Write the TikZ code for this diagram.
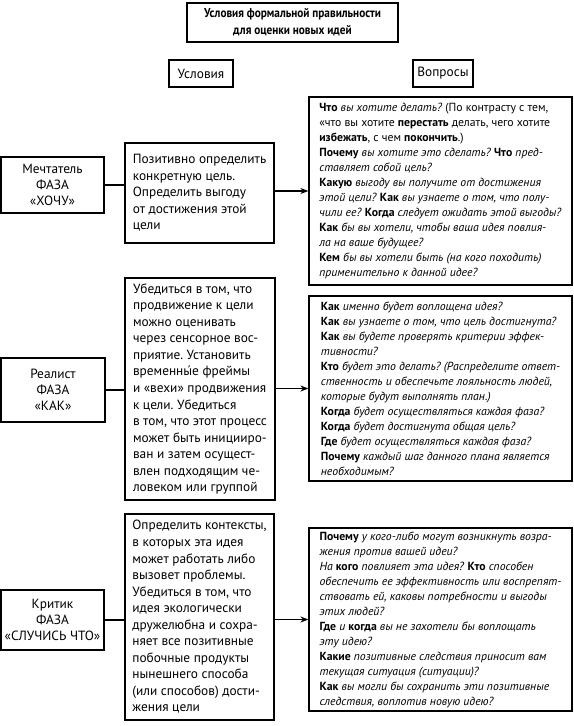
\documentclass[tikz,border=0pt]{standalone}
\usepackage{fontspec}
\setmainfont{PT Sans}
\newfontfamily\titlefont[FakeStretch=0.88]{PT Sans}
\usetikzlibrary{arrows.meta}
\frenchspacing
\tikzset{
  box/.style={draw=black, line width=0.9pt, rectangle, inner sep=0pt},
  sidebox/.style={box, align=center, font=\fontsize{10}{12}\selectfont},
  condbox/.style={box, align=left, font=\fontsize{10}{12.4}\selectfont},
  qbox/.style={box, align=left, font=\fontsize{8.8}{11.25}\selectfont},
  headbox/.style={box, align=center, font=\fontsize{10}{12}\selectfont},
  link/.style={line width=1pt},
  arr/.style={line width=1pt, -{Stealth[length=6pt,width=4.5pt]}}
}
\begin{document}
\begin{tikzpicture}[x=0.75pt,y=-0.75pt]
\useasboundingbox (0,0) rectangle (574,726);

\node[headbox, minimum width=158.25pt, minimum height=29.25pt, font=\titlefont\fontsize{9.6}{12.8}\selectfont\bfseries] (title) at (292.5,22.5)
  {Условия формальной правильности\\для оценки новых идей};
\node[headbox, minimum width=48pt, minimum height=20.25pt] (hcond) at (201,73.5) {Условия};
\node[headbox, minimum width=45pt, minimum height=20.25pt] (hq) at (443,73.5) {Вопросы};

% Row 1
\node[sidebox, minimum width=77.25pt, minimum height=42pt] (s1) at (52.5,185)
  {Мечтатель\\ФАЗА\\«ХОЧУ»};
\node[condbox, minimum width=111.75pt, minimum height=75pt] (c1) at (199.5,193)
  {Позитивно определить\\конкретную цель.\\Определить выгоду\\от достижения этой\\цели};
\node[qbox, minimum width=197.25pt, minimum height=141pt] (q1) at (440.5,191)
  {\textbf{Что} \textit{вы хотите делать?} (По контрасту с тем,\\
  «что вы хотите \textbf{перестать} делать, чего хотите\\
  \textbf{избежать}, с чем \textbf{покончить}.)\\
  \textbf{Почему} \textit{вы хотите это сделать?} \textbf{Что} \textit{пред-}\\
  \textit{ставляет собой цель?}\\
  \textbf{Какую} \textit{выгоду вы получите от достижения}\\
  \textit{этой цели?} \textbf{Как} \textit{вы узнаете о том, что полу-}\\
  \textit{чили ее?} \textbf{Когда} \textit{следует ожидать этой выгоды?}\\
  \textbf{Как} \textit{бы вы хотели, чтобы ваша идея повлия-}\\
  \textit{ла на ваше будущее?}\\
  \textbf{Кем} \textit{бы вы хотели быть (на кого походить)}\\
  \textit{применительно к данной идее?}};

% Row 2
\node[sidebox, minimum width=78pt, minimum height=48pt] (s2) at (53,390)
  {Реалист\\ФАЗА\\«КАК»};
\node[condbox, minimum width=112.5pt, minimum height=166.5pt] (c2) at (200,389)
  {Убедиться в том, что\\продвижение к цели\\можно оценивать\\через сенсорное вос-\\приятие. Установить\\временны́е фреймы\\и «вехи» продвижения\\к цели. Убедиться\\в том, что этот процесс\\может быть иницииро-\\ван и затем осущест-\\влен подходящим че-\\ловеком или группой};
\node[qbox, minimum width=197.25pt, minimum height=138.75pt] (q2) at (440.5,388.5)
  {\textbf{Как} \textit{именно будет воплощена идея?}\\
  \textbf{Как} \textit{вы узнаете о том, что цель достигнута?}\\
  \textbf{Как} \textit{вы будете проверять критерии эффек-}\\
  \textit{тивности?}\\
  \textbf{Кто} \textit{будет это делать? (Распределите ответ-}\\
  \textit{ственность и обеспечьте лояльность людей,}\\
  \textit{которые будут выполнять план.)}\\
  \textbf{Когда} \textit{будет осуществляться каждая фаза?}\\
  \textbf{Когда} \textit{будет достигнута общая цель?}\\
  \textbf{Где} \textit{будет осуществляться каждая фаза?}\\
  \textbf{Почему} \textit{каждый шаг данного плана является}\\
  \textit{необходимым?}};

% Row 3
\node[sidebox, minimum width=77.25pt, minimum height=45pt] (s3) at (52.5,620)
  {Критик\\ФАЗА\\«СЛУЧИСЬ ЧТО»};
\node[condbox, minimum width=111.75pt, minimum height=154.5pt] (c3) at (199.5,617)
  {Определить контексты,\\в которых эта идея\\может работать либо\\вызовет проблемы.\\Убедиться в том, что\\идея экологически\\дружелюбна и сохра-\\няет все позитивные\\побочные продукты\\нынешнего способа\\(или способов) дости-\\жения цели};
\node[qbox, minimum width=197.25pt, minimum height=137.25pt] (q3) at (440.5,619.5)
  {\textbf{Почему} \textit{у кого-либо могут возникнуть возра-}\\
  \textit{жения против вашей идеи?}\\
  \textit{На} \textbf{кого} \textit{повлияет эта идея?} \textbf{Кто} \textit{способен}\\
  \textit{обеспечить ее эффективность или воспрепят-}\\
  \textit{ствовать ей, каковы потребности и выгоды}\\
  \textit{этих людей?}\\
  \textbf{Где} \textit{и} \textbf{когда} \textit{вы не захотели бы воплощать}\\
  \textit{эту идею?}\\
  \textbf{Какие} \textit{позитивные следствия приносит вам}\\
  \textit{текущая ситуация (ситуации)?}\\
  \textbf{Как} \textit{вы могли бы сохранить эти позитивные}\\
  \textit{следствия, воплотив новую идею?}};

% Connectors
\draw[link] (s1.east) -- (s1.east -| c1.west);
\draw[link] (s2.east) -- (s2.east -| c2.west);
\draw[link] (s3.east) -- (s3.east -| c3.west);
\draw[arr] (q1.west -| c1.east) -- (q1.west);
\draw[arr] (q2.west -| c2.east) -- (q2.west);
\draw[arr] (q3.west -| c3.east) -- (q3.west);
\end{tikzpicture}
\end{document}
